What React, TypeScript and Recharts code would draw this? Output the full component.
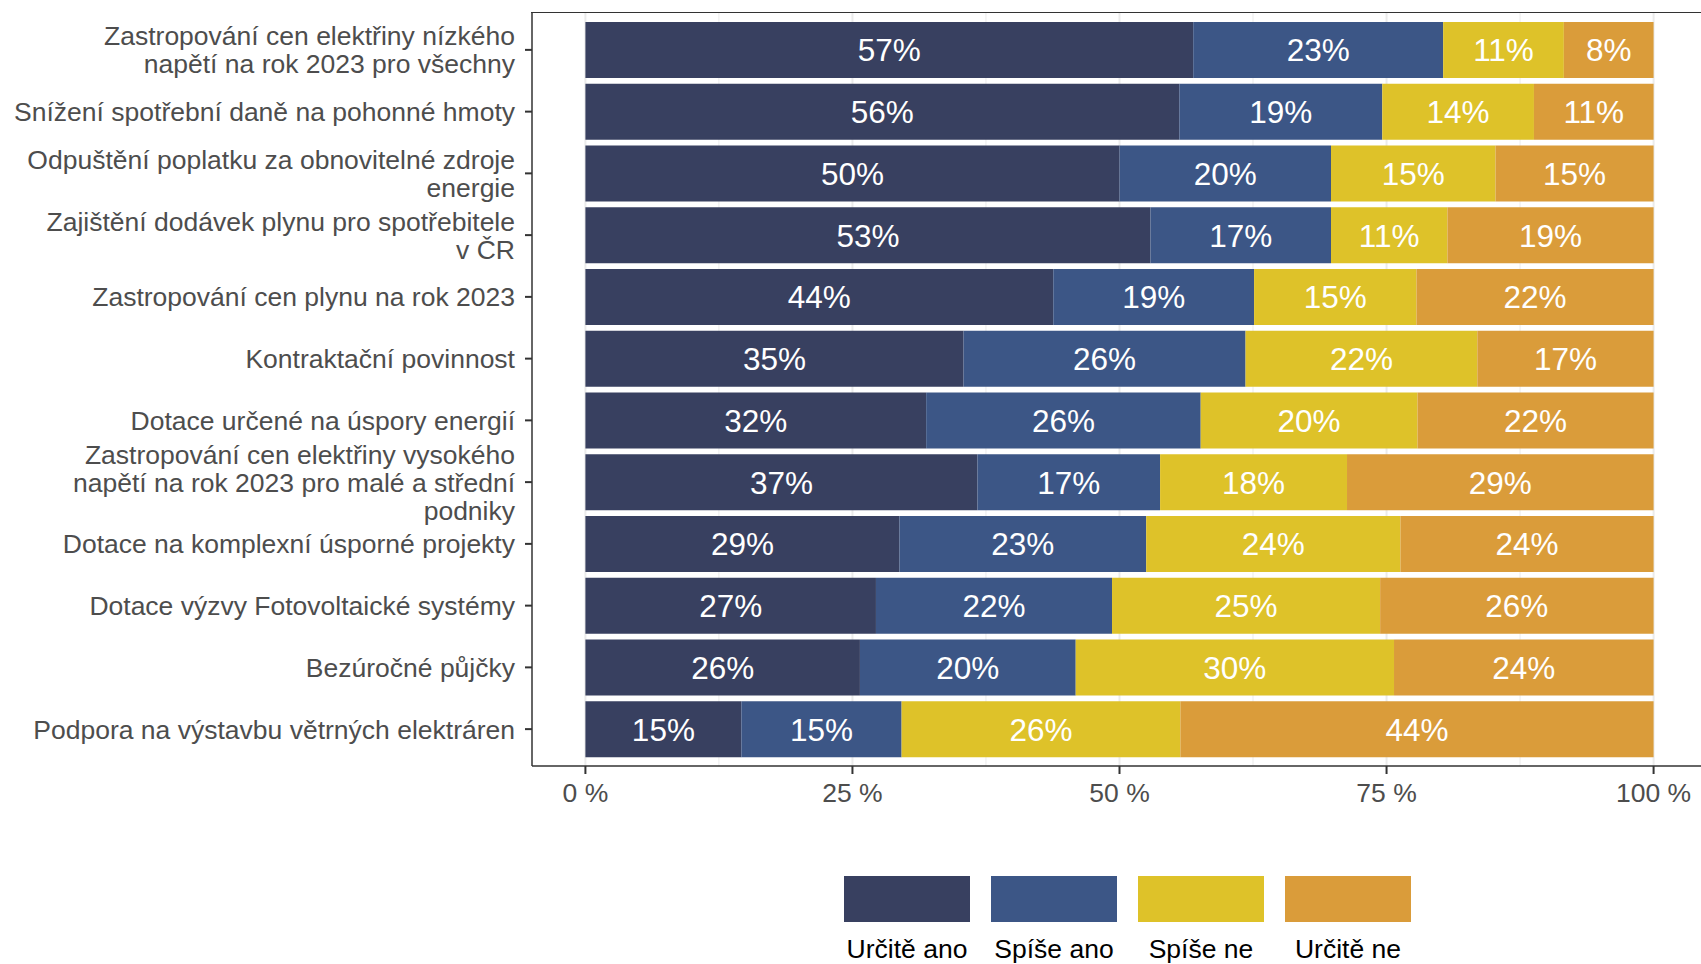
import {
  BarChart,
  Bar,
  XAxis,
  YAxis,
  LabelList,
  CartesianGrid,
} from "recharts";

const categories = [
  "Zastropování cen elektřiny nízkého\nnapětí na rok 2023 pro všechny",
  "Snížení spotřební daně na pohonné hmoty",
  "Odpuštění poplatku za obnovitelné zdroje\nenergie",
  "Zajištění dodávek plynu pro spotřebitele\nv ČR",
  "Zastropování cen plynu na rok 2023",
  "Kontraktační povinnost",
  "Dotace určené na úspory energií",
  "Zastropování cen elektřiny vysokého\nnapětí na rok 2023 pro malé a střední\npodniky",
  "Dotace na komplexní úsporné projekty",
  "Dotace výzvy Fotovoltaické systémy",
  "Bezúročné půjčky",
  "Podpora na výstavbu větrných elektráren",
];

// shares in %
const urciteAno = [56.9, 55.6, 50.0, 52.9, 43.8, 35.4, 31.9, 36.7, 29.4, 27.2, 25.7, 14.6];
const spiseAno = [23.4, 19.0, 19.8, 16.9, 18.8, 26.4, 25.7, 17.1, 23.1, 22.1, 20.2, 15.0];
const spiseNe = [11.3, 14.2, 15.4, 10.9, 15.2, 21.7, 20.3, 17.5, 23.8, 25.1, 29.8, 26.1];
const urciteNe = [8.4, 11.2, 14.8, 19.3, 22.2, 16.5, 22.1, 28.7, 23.7, 25.6, 24.3, 44.3];

const seriesKeys = ["urciteAno", "spiseAno", "spiseNe", "urciteNe"];
const seriesNames = ["Určitě ano", "Spíše ano", "Spíše ne", "Určitě ne"];
const seriesColors = ["#384060", "#3c5686", "#dec229", "#da9c3a"];

const xTicks = [0, 25, 50, 75, 100];
const xMinor = [12.5, 37.5, 62.5, 87.5];

const data = categories.map((name, i) => ({
  name,
  urciteAno: urciteAno[i],
  spiseAno: spiseAno[i],
  spiseNe: spiseNe[i],
  urciteNe: urciteNe[i],
}));

const FONT = "'Liberation Sans', Arial, Helvetica, sans-serif";

// multi-line category labels, right aligned like ggplot
const CategoryTick = (props: any) => {
  const { x, y, payload } = props;
  const lines = String(payload.value).split("\n");
  const lh = 28;
  return (
    <text x={x} y={y} textAnchor="end" fill="#4d4d4d" fontSize={26.5} fontFamily={FONT}>
      {lines.map((line, i) => (
        <tspan key={i} x={x} y={y + (i - (lines.length - 1) / 2) * lh + 9.5}>
          {line}
        </tspan>
      ))}
    </text>
  );
};

const App = () => {
  return (
    <div
      style={{
        position: "fixed",
        left: 0,
        top: 0,
        width: 1701,
        height: 964,
        overflow: "hidden",
        background: "#fff",
        fontFamily: FONT,
      }}
    >
      <BarChart
        width={1712}
        height={964}
        data={data}
        layout="vertical"
        margin={{ top: 13, right: 5, bottom: 138, left: 0 }}
        barCategoryGap="5%"
      >
        {/* grid: minor then major */}
        <CartesianGrid horizontal={false} verticalValues={xMinor} stroke="#ebebeb" strokeWidth={1} />
        <CartesianGrid horizontal={false} verticalValues={xTicks} stroke="#ebebeb" strokeWidth={2} />
        <XAxis
          type="number"
          domain={[-5, 105]}
          ticks={xTicks}
          allowDataOverflow
          tickFormatter={(v) => `${v} %`}
          tick={{ fill: "#4d4d4d", fontSize: 26.5, fontFamily: FONT }}
          tickSize={8}
          tickMargin={9}
          tickLine={{ stroke: "#333", strokeWidth: 2 }}
          axisLine={{ stroke: "#333", strokeWidth: 1.5 }}
          height={60}
        />
        <YAxis
          type="category"
          dataKey="name"
          width={532}
          padding={{ top: 6, bottom: 6 }}
          tick={<CategoryTick />}
          tickSize={7}
          tickMargin={10}
          tickLine={{ stroke: "#333", strokeWidth: 2 }}
          axisLine={{ stroke: "#333", strokeWidth: 1.5 }}
          interval={0}
        />
        {seriesKeys.map((k, i) => (
          <Bar
            key={k}
            dataKey={k}
            name={seriesNames[i]}
            stackId="a"
            fill={seriesColors[i]}
            isAnimationActive={false}
          >
            <LabelList
              dataKey={k}
              position="center"
              fill="#ffffff"
              fontSize={31.5}
              fontFamily={FONT}
              formatter={(v: any) => `${Math.round(Number(v))}%`}
            />
          </Bar>
        ))}
      </BarChart>

      {/* top edge of the panel border */}
      <div
        style={{
          position: "absolute",
          left: 531,
          top: 12,
          width: 1200,
          height: 0,
          borderTop: "1.5px solid #333",
        }}
      />

      {/* legend */}
      <div
        style={{
          position: "absolute",
          left: 844,
          top: 876,
          display: "flex",
          gap: 21,
        }}
      >
        {seriesNames.map((n, i) => (
          <div key={n} style={{ width: 126, textAlign: "center" }}>
            <div style={{ width: 126, height: 46, background: seriesColors[i] }} />
            <div
              style={{
                marginTop: 12,
                fontSize: 26.5,
                lineHeight: "30px",
                color: "#000",
                whiteSpace: "nowrap",
              }}
            >
              {n}
            </div>
          </div>
        ))}
      </div>
    </div>
  );
};

export default App;
